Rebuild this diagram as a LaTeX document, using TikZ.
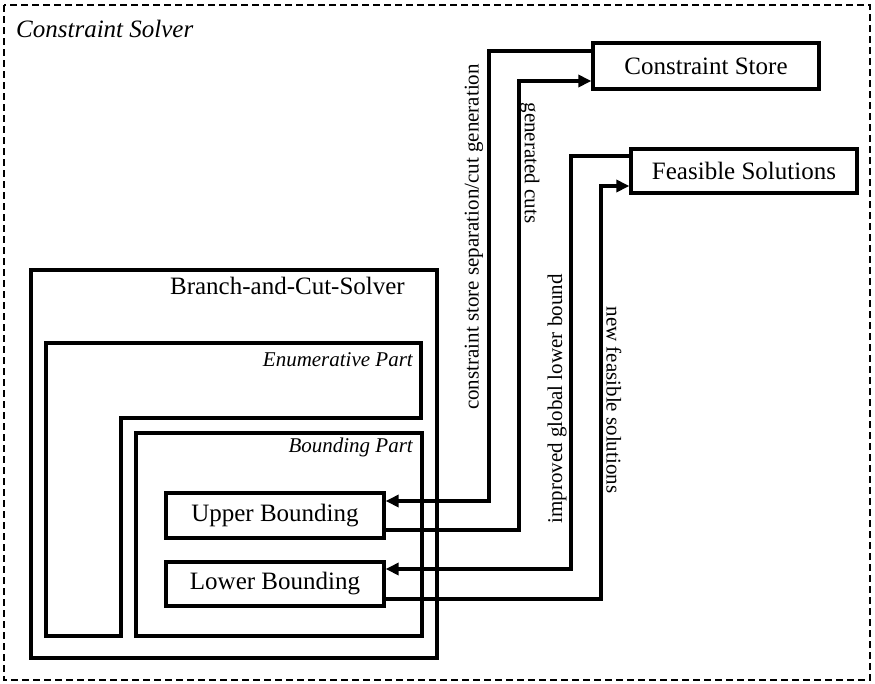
\documentclass[tikz,border=0pt]{standalone}
\usepackage{fontspec}
\setmainfont{Liberation Serif}
\usetikzlibrary{arrows.meta}
\begin{document}
\begin{tikzpicture}[x=1pt,y=-1pt,
  thick line/.style={line width=3.3pt},
  blk/.style={draw,thick line,inner sep=0pt,font=\fontsize{25}{30}\selectfont},
  arr/.style={thick line,-{Triangle[length=13pt,width=12pt]}},
  lab/.style={inner sep=0pt,font=\fontsize{21}{25}\selectfont},
  ilab/.style={inner sep=0pt,font=\fontsize{21}{25}\selectfont\itshape,anchor=base east},
  big/.style={inner sep=0pt,font=\fontsize{25}{30}\selectfont}]
\useasboundingbox (0,0) rectangle (875,683);
% outer dashed frame
\draw[line width=1.5pt,dash pattern=on 7pt off 4pt] (4,5) rectangle (870,680);
\node[big,font=\fontsize{25}{30}\selectfont\itshape,anchor=base west] (title) at (16,37) {Constraint Solver};
% Branch-and-Cut box
\draw[thick line] (31,270) rectangle (437,658);
\node[big,anchor=base east] (bc) at (405,294) {Branch-and-Cut-Solver};
% Enumerative part (L-shape)
\draw[thick line] (46,343) -- (421,343) -- (421,418) -- (121,418) -- (121,636) -- (46,636) -- cycle;
\node[ilab] (enum) at (413,366) {Enumerative Part};
% Bounding part
\draw[thick line] (136,433) rectangle (422,636);
\node[ilab] (bnd) at (413,452) {Bounding Part};
% boxes
\node[blk,minimum width=218pt,minimum height=45pt] (ub) at (275,515.5) {Upper Bounding};
\node[blk,minimum width=218pt,minimum height=44pt] (lb) at (275,584) {Lower Bounding};
\node[blk,minimum width=226pt,minimum height=46pt] (cs) at (706,66) {Constraint Store};
\node[blk,minimum width=226pt,minimum height=44pt] (fs) at (744,171) {Feasible Solutions};
% connectors
\draw[arr] (cs.west |- 0,51) -- (489,51) -- (489,501) -- (ub.east |- 0,501);
\draw[arr] (ub.east |- 0,530) -- (519,530) -- (519,81) -- (cs.west |- 0,81);
\draw[arr] (fs.west |- 0,156) -- (571,156) -- (571,569) -- (lb.east |- 0,569);
\draw[arr] (lb.east |- 0,599) -- (601,599) -- (601,186) -- (fs.west |- 0,186);
% connector labels
\node[lab,rotate=90] (l1) at (474,237) {constraint store separation/cut generation};
\node[lab,rotate=-90] (l2) at (530,163) {generated cuts};
\node[lab,rotate=90] (l3) at (557,399) {improved global lower bound};
\node[lab,rotate=-90] (l4) at (614,400) {new feasible solutions};
\end{tikzpicture}
\end{document}
